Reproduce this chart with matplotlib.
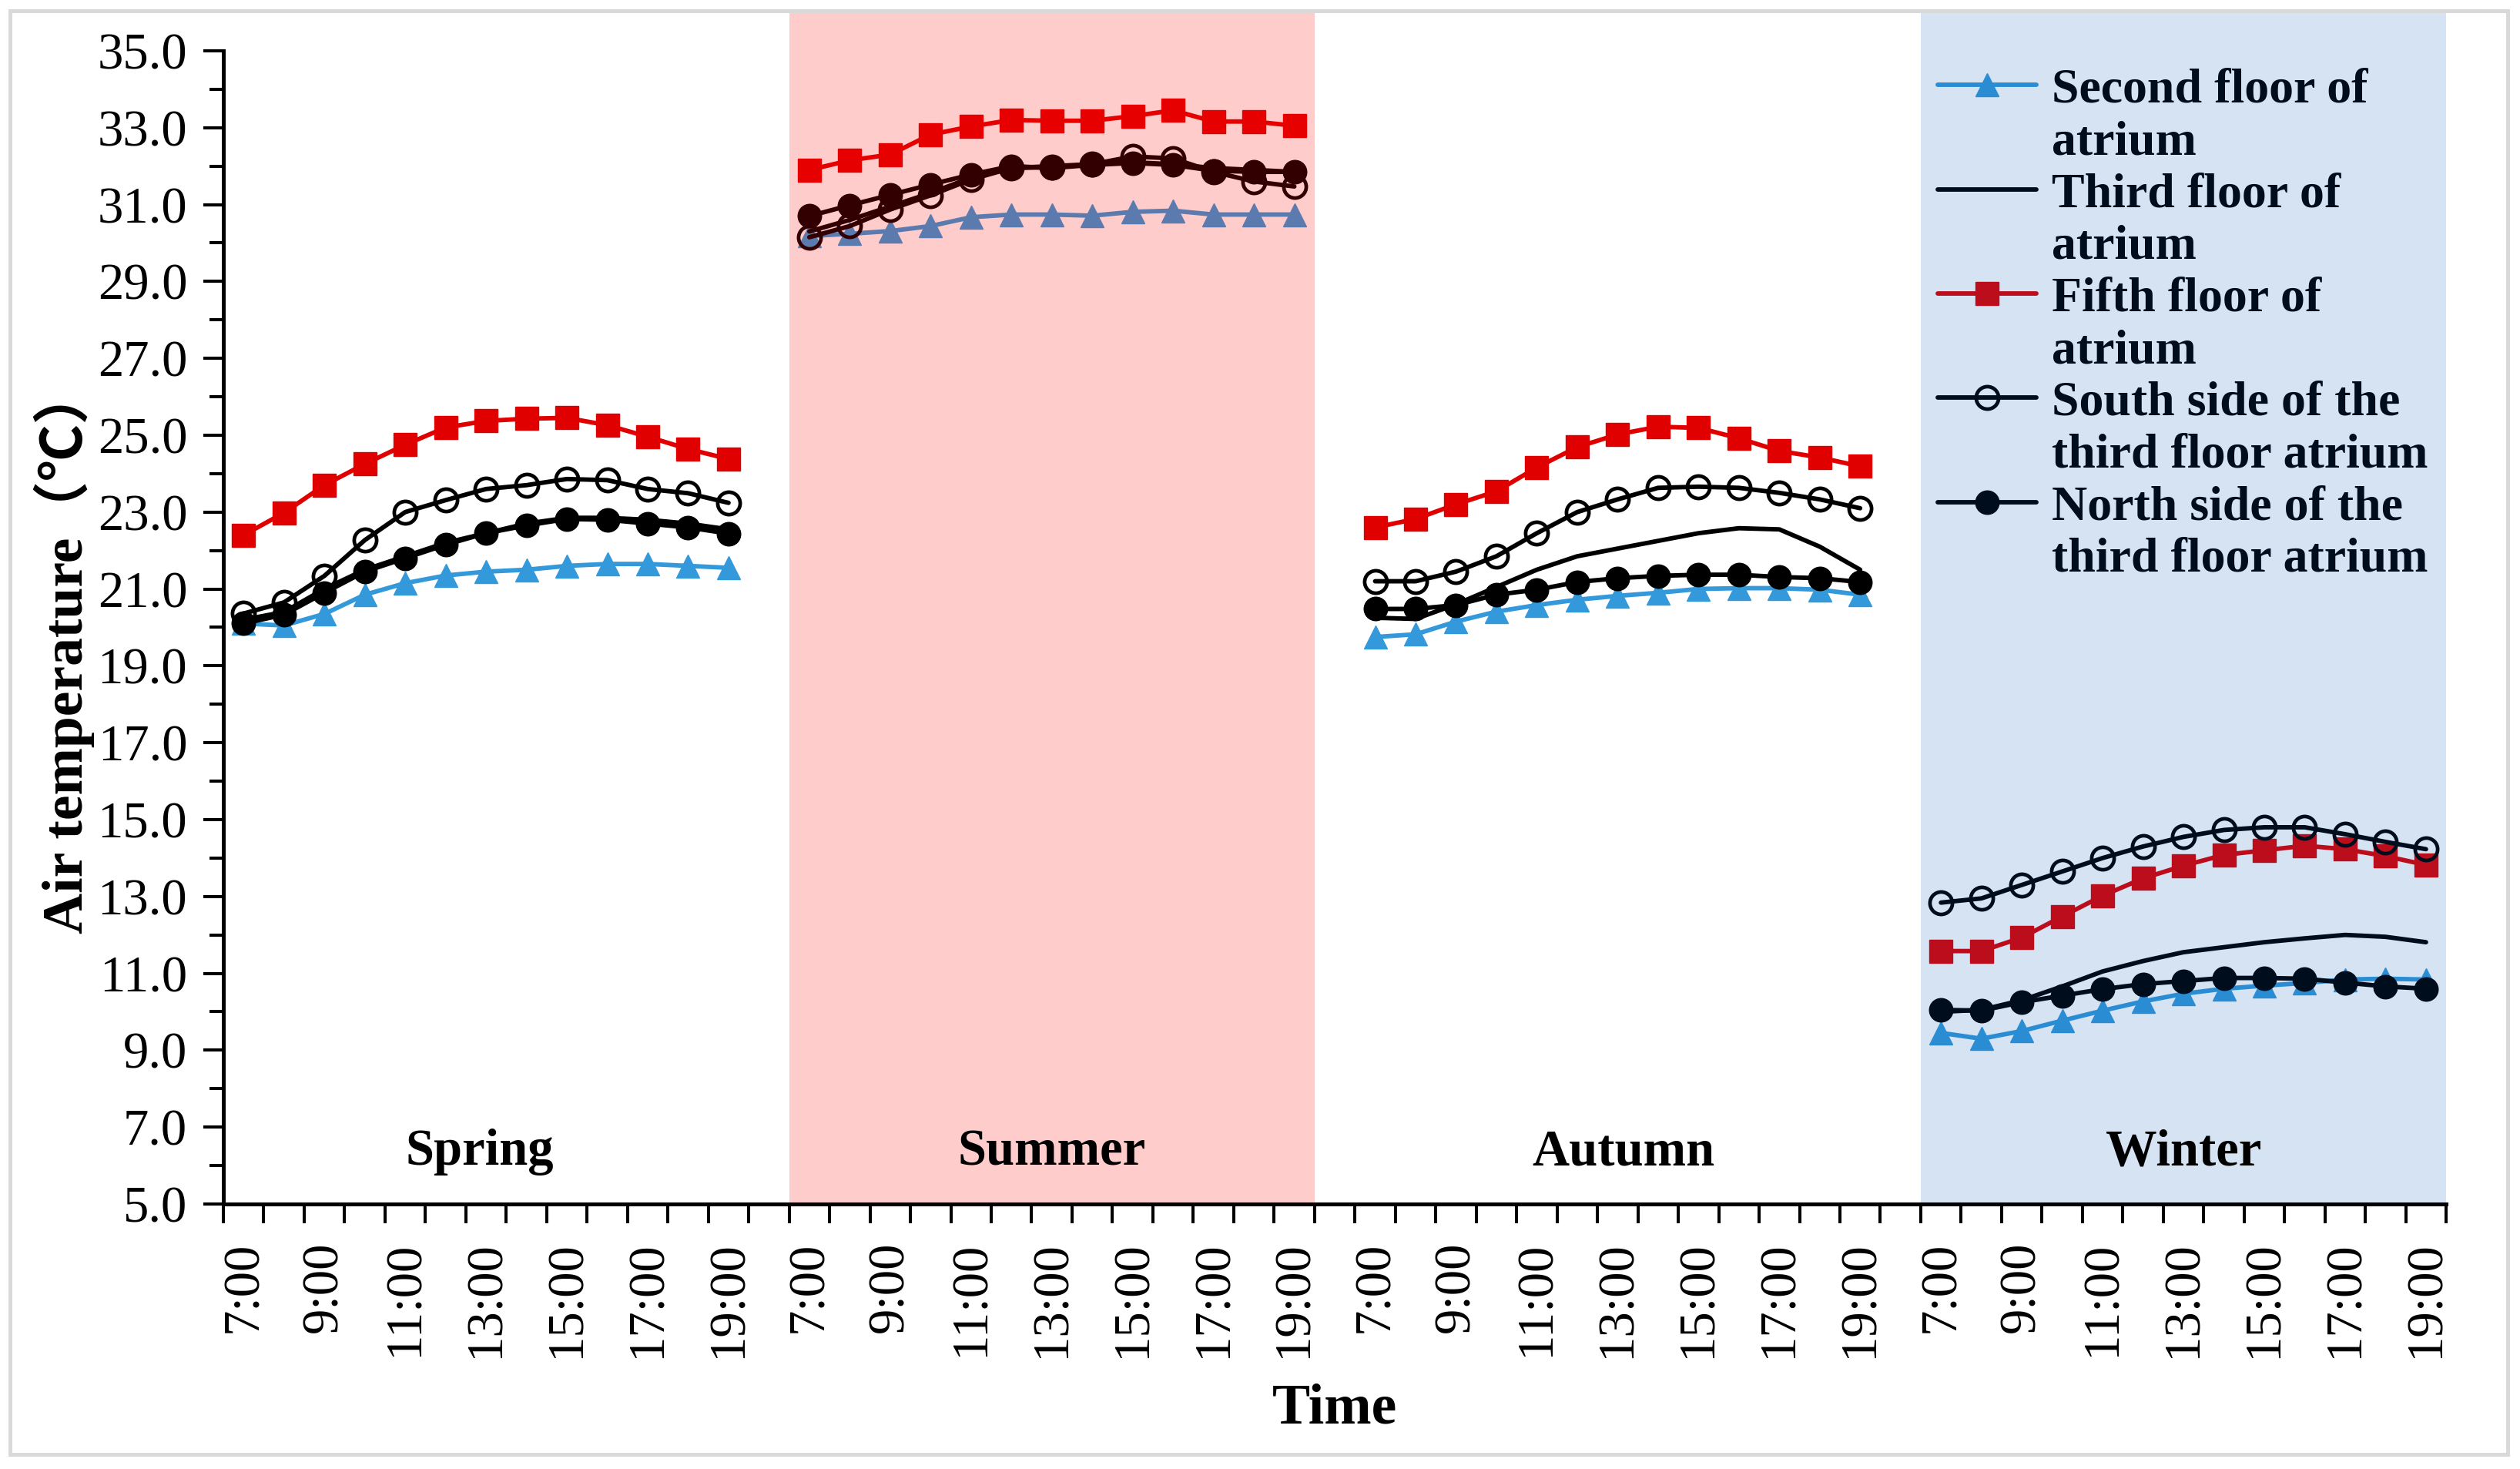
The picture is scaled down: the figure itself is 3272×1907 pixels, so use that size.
import numpy as np
import matplotlib
matplotlib.use("Agg")
import matplotlib.pyplot as plt
from matplotlib.lines import Line2D
from matplotlib.patches import Rectangle

plt.rcParams['font.family'] = ['Liberation Serif', 'Noto Sans CJK SC', 'DejaVu Sans']

seasons = ['Spring', 'Summer', 'Autumn', 'Winter']
hours = ['7:00', '8:00', '9:00', '10:00', '11:00', '12:00', '13:00',
         '14:00', '15:00', '16:00', '17:00', '18:00', '19:00']
tick_labels = ['7:00', '9:00', '11:00', '13:00', '15:00', '17:00', '19:00']

# Second floor of atrium
second_spring = [20.1, 20.05, 20.35, 20.85, 21.15, 21.35, 21.45, 21.5, 21.6, 21.65, 21.65, 21.6, 21.55]
second_summer = [30.18, 30.24, 30.31, 30.44, 30.67, 30.74, 30.74, 30.71, 30.81, 30.84, 30.74, 30.74, 30.74]
second_autumn = [19.75, 19.82, 20.15, 20.41, 20.58, 20.72, 20.82, 20.9, 21.0, 21.02, 21.02, 20.98, 20.85]
second_winter = [9.45, 9.3, 9.5, 9.77, 10.03, 10.27, 10.47, 10.6, 10.68, 10.75, 10.84, 10.86, 10.84]
# Third floor of atrium
third_spring = [20.2, 20.4, 21.0, 21.5, 21.85, 22.2, 22.45, 22.7, 22.85, 22.85, 22.8, 22.7, 22.55]
third_summer = [30.3, 30.6, 30.95, 31.3, 31.7, 31.95, 32.0, 32.05, 32.1, 32.05, 31.95, 31.9, 31.85]
third_autumn = [20.25, 20.22, 20.6, 21.05, 21.5, 21.85, 22.05, 22.25, 22.45, 22.58, 22.55, 22.1, 21.5]
third_winter = [10.0, 10.05, 10.3, 10.66, 11.05, 11.32, 11.55, 11.68, 11.81, 11.91, 12.0, 11.95, 11.81]
# Fifth floor of atrium
fifth_spring = [22.4, 22.98, 23.7, 24.25, 24.75, 25.2, 25.37, 25.43, 25.45, 25.26, 24.96, 24.64, 24.38]
fifth_summer = [31.9, 32.15, 32.3, 32.82, 33.03, 33.2, 33.18, 33.18, 33.3, 33.45, 33.16, 33.16, 33.05]
fifth_autumn = [22.6, 22.82, 23.2, 23.54, 24.16, 24.69, 25.02, 25.22, 25.19, 24.92, 24.59, 24.42, 24.19]
fifth_winter = [11.58, 11.58, 11.93, 12.48, 13.02, 13.47, 13.8, 14.08, 14.2, 14.32, 14.23, 14.05, 13.82]
# South side of the third floor atrium
south_spring = [20.36, 20.65, 21.34, 22.27, 23.0, 23.31, 23.6, 23.7, 23.86, 23.83, 23.6, 23.49, 23.24]
south_summer = [30.15, 30.44, 30.87, 31.24, 31.65, 31.95, 31.97, 32.05, 32.25, 32.2, 31.85, 31.6, 31.47]
south_autumn = [21.2, 21.2, 21.45, 21.85, 22.45, 23.0, 23.33, 23.63, 23.66, 23.63, 23.5, 23.33, 23.1]
south_winter = [12.84, 12.95, 13.3, 13.65, 14.0, 14.3, 14.55, 14.73, 14.8, 14.8, 14.62, 14.42, 14.23]
# North side of the third floor atrium
north_spring = [20.1, 20.33, 20.9, 21.45, 21.8, 22.15, 22.45, 22.65, 22.82, 22.8, 22.7, 22.6, 22.44]
north_summer = [30.7, 30.98, 31.25, 31.52, 31.78, 32.0, 31.95, 32.03, 32.08, 32.03, 31.88, 31.85, 31.85]
north_autumn = [20.48, 20.48, 20.58, 20.85, 20.98, 21.18, 21.28, 21.34, 21.37, 21.37, 21.31, 21.28, 21.18]
north_winter = [10.05, 10.03, 10.25, 10.42, 10.59, 10.72, 10.8, 10.88, 10.88, 10.86, 10.76, 10.66, 10.6]

n = len(hours)
seg = n + 1  # one blank slot between seasons


def join(parts):
    out = []
    for i, p in enumerate(parts):
        out.extend(p)
        if i < len(parts) - 1:
            out.append(np.nan)
    return np.array(out, dtype=float)


x = np.arange(len(seasons) * seg - 1)

series = [
    dict(label=['Second floor of', 'atrium'],
         y=join([second_spring, second_summer, second_autumn, second_winter]),
         color='#3399DA', marker='^', ms=21, mfc='#3399DA', mec='#3399DA', mew=1),
    dict(label=['Third floor of', 'atrium'],
         y=join([third_spring, third_summer, third_autumn, third_winter]),
         color='black', marker=None, ms=0, mfc='black', mec='black', mew=0),
    dict(label=['Fifth floor of', 'atrium'],
         y=join([fifth_spring, fifth_summer, fifth_autumn, fifth_winter]),
         color='#E00000', marker='s', ms=21, mfc='#E00000', mec='#E00000', mew=1),
    dict(label=['South side of the', 'third floor atrium'],
         y=join([south_spring, south_summer, south_autumn, south_winter]),
         color='black', marker='o', ms=21, mfc='none', mec='black', mew=3.4),
    dict(label=['North side of the', 'third floor atrium'],
         y=join([north_spring, north_summer, north_autumn, north_winter]),
         color='black', marker='o', ms=22, mfc='black', mec='black', mew=1),
]

fig = plt.figure(figsize=(32.73, 19.07), dpi=100)
ax = fig.add_axes([0.0886, 0.1804, 0.9704 - 0.0886, 0.8112])

handles, labels = [], []
blank = Line2D([], [], linestyle='none', marker=None)
for s in series:
    h, = ax.plot(x, s['y'], color=s['color'], lw=4.2, marker=s['marker'],
                 markersize=s['ms'], markerfacecolor=s['mfc'],
                 markeredgecolor=s['mec'], markeredgewidth=s['mew'], zorder=3,
                 solid_capstyle='round', solid_joinstyle='round')
    handles += [h, blank]
    labels += s['label']

# season shading drawn over the lines (as in the original)
ax.axvspan(seg * 1 - 0.5, seg * 1 + n - 0.5, color=(1.0, 0.0, 0.0), alpha=0.2,
           lw=0, zorder=10)
ax.axvspan(seg * 3 - 0.5, seg * 3 + n - 0.5, color=(0.0, 0.33, 0.72), alpha=0.16,
           lw=0, zorder=10)

ax.set_xlim(-0.5, len(x) - 0.5)
ax.set_ylim(5, 36)

# y axis
ax.set_yticks(np.arange(5, 36, 2))
ax.set_yticks(np.arange(6, 35, 2), minor=True)
ax.set_yticklabels(['%.1f' % v for v in np.arange(5, 36, 2)])
ax.tick_params(axis='y', which='major', length=18.7, width=2.9, direction='out',
               labelsize=48, pad=15)
ax.tick_params(axis='y', which='minor', length=13, width=2.9, direction='out')

# x axis: marks at slot boundaries, labels at every other hour
major_pos = []
major_lab = []
for si in range(len(seasons)):
    for k, lab in enumerate(tick_labels):
        major_pos.append(si * seg + 2 * k)
        major_lab.append(lab)
ax.set_xticks(major_pos)
ax.set_xticklabels(major_lab, rotation=90)
ax.set_xticks(np.arange(-0.5, len(x), 1.0), minor=True)
ax.tick_params(axis='x', which='major', length=0, labelsize=48, pad=35)
ax.tick_params(axis='x', which='minor', length=18, width=2.9, direction='out')

for side in ['top', 'right']:
    ax.spines[side].set_visible(False)
for side in ['left', 'bottom']:
    ax.spines[side].set_linewidth(3.6)
    ax.spines[side].set_zorder(20)
ax.spines['left'].set_bounds(5, 35)
ax.patch.set_visible(False)

# season names (drawn above the shading)
name_offsets = [-0.15, 0.0, 0.15, 0.0]
for si, name in enumerate(seasons):
    ax.text(si * seg + (n - 1) / 2 + name_offsets[si], 6.35, name, ha='center',
            va='center', fontsize=48, fontweight='bold', color='black', zorder=12)

leg = ax.legend(handles, labels, loc='upper left', bbox_to_anchor=(0.7713, 0.9535),
                frameon=False, borderpad=0, borderaxespad=0, handlelength=2.0,
                handletextpad=0.32, labelspacing=0.14,
                prop={'family': 'Liberation Serif', 'weight': 'bold', 'size': 46})
leg.set_zorder(5)

fig.text(0.0254, 0.557, 'Air temperature（℃）', rotation=90, ha='center', va='center',
         fontsize=53, fontweight='bold')
fig.text(0.5295, 0.031, 'Time', ha='center', va='baseline', fontsize=53,
         fontweight='bold')

fig.patches.append(Rectangle((13 / 3273, 1 - 1888 / 1907), (3256 - 13) / 3273,
                             (1888 - 14) / 1907, transform=fig.transFigure,
                             fill=False, edgecolor='#D9D9D9', lw=3.6))

fig.savefig('out.png', dpi=100)
